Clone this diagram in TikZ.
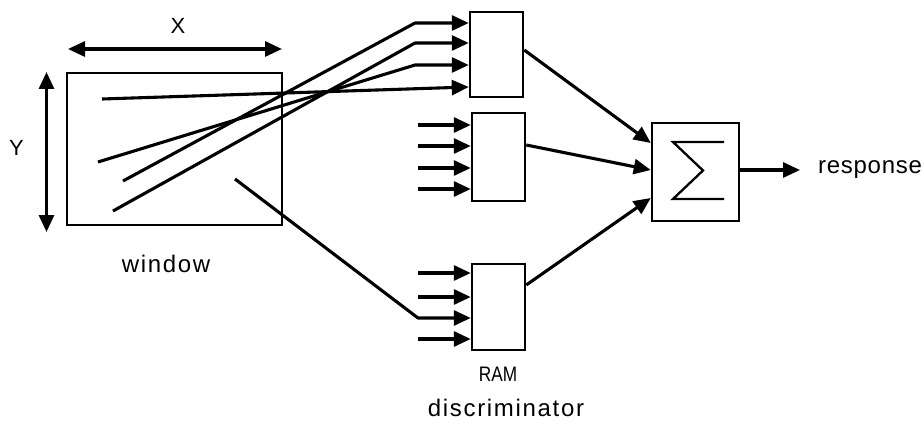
\documentclass[tikz,border=0pt]{standalone}
\usepackage{fontspec}
\setmainfont{Liberation Sans}
\usetikzlibrary{arrows.meta}
\begin{document}
\begin{tikzpicture}[x=1pt,y=-1pt,
  box/.style={draw, line width=2.5pt, inner sep=0pt, rectangle},
  wire/.style={line width=3.1pt, line join=round},
  head/.tip={Triangle[length=17pt,width=15pt]},
  feed/.style={wire, -head},
  lbl/.style={font=\fontsize{24}{28}\selectfont, inner sep=0pt},
  spaced/.style={lbl, font=\fontsize{24}{28}\selectfont\addfontfeatures{LetterSpace=7}}]
\useasboundingbox (0,0) rectangle (924,428);

% window and its dimensions
\node[box, minimum width=215pt, minimum height=152pt] (win) at (174.5,149) {};
\draw[wire, head-head] (68,49) -- (282,49);
\draw[wire, head-head] (46.5,72) -- (46.5,232);
\node[lbl, font=\fontsize{22}{26}\selectfont] (xl) at (178,26) {X};
\node[lbl, font=\fontsize{22}{26}\selectfont] (yl) at (16.5,148) {Y};
\node[spaced] (wl) at (166,264) {window};

% RAM blocks
\node[box, minimum width=53pt, minimum height=85pt] (r1) at (496.5,54.5) {};
\node[box, minimum width=53pt, minimum height=88pt] (r2) at (498.5,157) {};
\node[box, minimum width=53pt, minimum height=86pt] (r3) at (498.5,307) {};
\node[lbl, font=\fontsize{21}{25}\selectfont\addfontfeatures{FakeStretch=0.82}] (raml) at (498,374) {RAM};
\node[spaced] (discl) at (506,408) {discriminator};

% summing unit
\node[box, minimum width=87pt, minimum height=98pt] (sum) at (695.5,172) {};
\draw[line width=2.3pt, line join=miter] (724,142) -- (673,142) -- (703,170.5) -- (673,199) -- (724,199);
\node[lbl, anchor=west, font=\fontsize{24}{28}\selectfont\addfontfeatures{LetterSpace=3}] (resp) at (818,170) {response};

% sample points inside the window
\coordinate (pa) at (98,162);
\coordinate (pb) at (123,181);
\coordinate (pc) at (113,211);
\coordinate (pd) at (102,99);
\coordinate (pe) at (235,179);
\coordinate (ka) at (415,23);
\coordinate (kb) at (415,43);
\coordinate (kc) at (415,65);
\coordinate (ke) at (418,318);

% RAM inputs
\coordinate (r1a) at (r1.west |- ka);
\coordinate (r1b) at (r1.west |- kb);
\coordinate (r1c) at (r1.west |- kc);
\coordinate (r1d) at ([yshift=-32.5pt]r1.center -| r1.west);
\draw[feed] (pb) -- (ka) -- (r1a);
\draw[feed] (pc) -- (kb) -- (r1b);
\draw[feed] (pa) -- (kc) -- (r1c);
\draw[feed] (pd) -- (r1d);

\foreach \yy [count=\i] in {125,146,168,189}{
  \coordinate (s2\i) at (418,\yy);
  \draw[feed] (s2\i) -- (s2\i -| r2.west);
}
\foreach \yy [count=\i] in {273,297,339}{
  \coordinate (s3\i) at (418,\yy);
  \draw[feed] (s3\i) -- (s3\i -| r3.west);
}
\draw[feed] (pe) -- (ke) -- (ke -| r3.west);

% RAM outputs into the sum
\coordinate (o1) at (r1.east |- 0,50);
\coordinate (o2) at (r2.east |- 0,145);
\coordinate (o3) at (r3.east |- 0,285);
\draw[feed] (o1) -- (sum.west |- 0,143);
\draw[feed] (o2) -- (sum.west |- 0,170);
\draw[feed] (o3) -- (sum.west |- 0,198);
\draw[feed] (sum.east |- 0,170) -- (800,170) coordinate (out);
\end{tikzpicture}
\end{document}
